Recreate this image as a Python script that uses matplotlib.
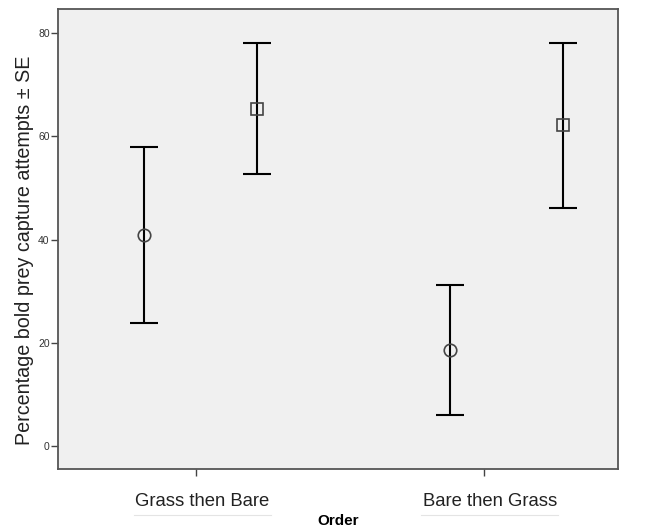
import matplotlib
matplotlib.use("Agg")
import matplotlib.pyplot as plt
from matplotlib.lines import Line2D
from matplotlib.transforms import ScaledTranslation

plt.rcParams['font.family'] = ['Liberation Sans', 'DejaVu Sans']

orders = ["Grass then Bare", "Bare then Grass"]
tick_pos = [2.46, 7.61]

# circle series
circ_x = [1.54, 7.00]
circ_mean = [40.9, 18.6]
circ_se = [17.0, 12.6]

# square series
sq_x = [3.55, 9.02]
sq_mean = [65.3, 62.1]
sq_se = [12.7, 15.9]

fig = plt.figure(figsize=(6.53, 5.32), dpi=100)
ax = fig.add_axes([0.0888, 0.1184, 0.8576, 0.8646])
ax.set_facecolor('#f0f0f0')

ax.errorbar(circ_x, circ_mean, yerr=circ_se, fmt='none', ecolor='black',
            elinewidth=1.5, capsize=10, capthick=1.5, zorder=2)
ax.plot(circ_x, circ_mean, linestyle='none', marker='o', markersize=9,
        markerfacecolor='none', markeredgecolor='#444444', markeredgewidth=1.2, zorder=3)

ax.errorbar(sq_x, sq_mean, yerr=sq_se, fmt='none', ecolor='black',
            elinewidth=1.5, capsize=10, capthick=1.5, zorder=2)
ax.plot(sq_x, sq_mean, linestyle='none', marker='s', markersize=9,
        markerfacecolor='none', markeredgecolor='#444444', markeredgewidth=1.2, zorder=3)

ax.set_xlim(0, 10)
ax.set_ylim(-4.4, 84.6)
ax.set_yticks([0, 20, 40, 60, 80])
ax.set_xticks(tick_pos)
ax.set_xticklabels(orders, fontsize=13.3, color='#222222')
ax.tick_params(axis='y', labelsize=7.5, labelcolor='#333333', length=5, width=1, color='#444444', pad=1)
ax.tick_params(axis='x', length=5, width=1, color='#444444', pad=12)

# SPSS puts the category text slightly right of its tick
shift = ScaledTranslation(6 / 100, 0, fig.dpi_scale_trans)
for lbl in ax.get_xticklabels():
    lbl.set_transform(lbl.get_transform() + shift)

for s in ax.spines.values():
    s.set_color('#555555')
    s.set_linewidth(1.3)

ax.set_ylabel("Percentage bold prey capture attempts \u00b1 SE", fontsize=14.2, color='#222222')
ax.yaxis.set_label_coords(-0.042, 0.476)
ax.set_xlabel("Order", fontsize=11, fontweight='bold', labelpad=3)

# faint underline beneath category labels
for x0, x1 in [(134, 271), (421, 558)]:
    fig.add_artist(Line2D([x0 / 653, x1 / 653], [1 - 515 / 532] * 2,
                          color='#e4e4e4', linewidth=0.8))

fig.savefig("out.png", dpi=100)
